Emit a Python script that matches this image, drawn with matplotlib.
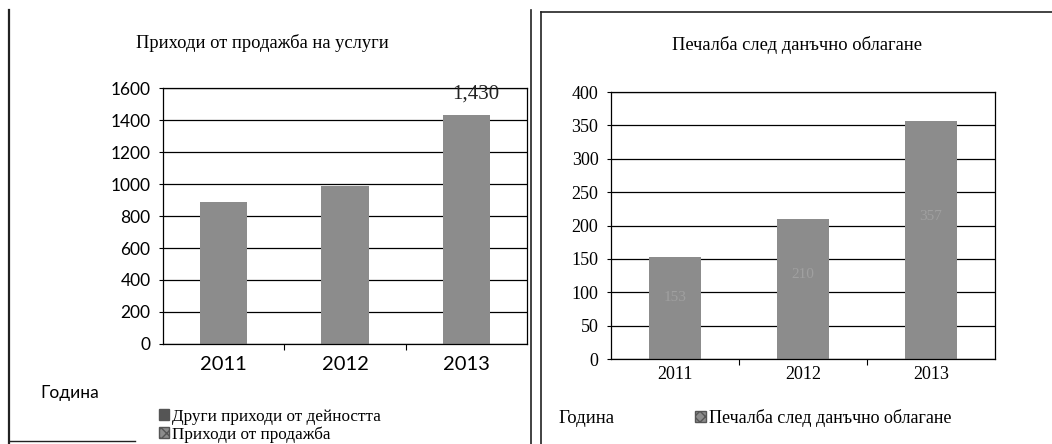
import matplotlib.pyplot as plt
from matplotlib.patches import Patch
from matplotlib.lines import Line2D

# Data
years = ['2011', '2012', '2013']
sales_income = [890, 990, 1430]          # Приходи от продажба
other_income = [0, 0, 0]                 # Други приходи от дейността
profit_after_tax = [153, 210, 357]       # Печалба след данъчно облагане

left_title = 'Приходи от продажба на услуги'
right_title = 'Печалба след данъчно облагане'
left_legend = ['Други приходи от дейността', 'Приходи от продажба']
right_legend = ['Печалба след данъчно облагане']
x_name = 'Година'

W, H = 1052, 444
bar_color = '#8c8c8c'
serif = 'Liberation Serif'
sans = 'Lato'

fig = plt.figure(figsize=(W / 100, H / 100), dpi=100)


def fx(px):
    return px / W


def fy(py):
    return 1 - py / H


def style_axes(ax, ymax, step):
    ax.set_xlim(-0.5, len(years) - 0.5)
    ax.set_ylim(0, ymax)
    ax.set_yticks(range(0, ymax + 1, step))
    ax.yaxis.grid(True, color='black', linewidth=0.9)
    ax.set_axisbelow(True)
    for s in ax.spines.values():
        s.set_color('black')
        s.set_linewidth(0.9)
    # category boundaries as tick marks, labels at centres
    ax.set_xticks([i + 0.5 for i in range(len(years) - 1)])
    ax.set_xticklabels([])
    ax.set_xticks(range(len(years)), minor=True)
    ax.set_xticklabels(years, minor=True)
    ax.tick_params(axis='x', which='major', length=4, direction='out')
    ax.tick_params(axis='x', which='minor', length=0, pad=9)
    ax.tick_params(axis='y', length=3, direction='out', pad=6)


# left panel
ax1 = fig.add_axes([fx(163), fy(344), fx(527 - 163), (344 - 88) / H])
ax1.bar(range(len(years)), other_income, width=0.39, color='#555555')
ax1.bar(range(len(years)), sales_income, width=0.39, color=bar_color)
style_axes(ax1, 1600, 200)
for lab in ax1.get_yticklabels():
    lab.set_fontfamily(sans)
    lab.set_fontsize(12.5)
for lab in ax1.get_xticklabels(minor=True):
    lab.set_fontfamily(sans)
    lab.set_fontsize(14.5)
ax1.text(2.08, sales_income[2] + 130, f'{sales_income[2]:,}', ha='center', va='center',
         fontsize=15, family=serif, color='#222222')

fig.text(fx(262), fy(43), left_title, ha='center', va='center', family=serif, fontsize=13.3)
fig.text(fx(40), fy(393), x_name, ha='left', va='center', family=sans, fontsize=12.5)

h1 = [Patch(facecolor='#555555', edgecolor='#555555'),
      Patch(facecolor=bar_color, edgecolor='#555555', hatch='xxx')]
fig.legend(h1, left_legend, loc='upper left', bbox_to_anchor=(fx(150), fy(400)),
           frameon=False, prop={'family': serif, 'size': 12.3}, handlelength=0.6,
           handleheight=0.6, handletextpad=0.2, labelspacing=0.1, borderpad=0)

# right panel
ax2 = fig.add_axes([fx(611), fy(359), fx(995 - 611), (359 - 92) / H])
ax2.bar(range(len(years)), profit_after_tax, width=0.40, color=bar_color)
style_axes(ax2, 400, 50)
for lab in ax2.get_yticklabels() + ax2.get_xticklabels(minor=True):
    lab.set_fontfamily(serif)
    lab.set_fontsize(13)
ax2.tick_params(axis='x', which='minor', pad=5)
# faint data labels inside the bars
for i, v in enumerate(profit_after_tax):
    ax2.text(i, v * 0.6, str(v), ha='center', va='center', family=serif,
             fontsize=11, color='#a0a0a0')

fig.text(fx(797), fy(45), right_title, ha='center', va='center', family=serif, fontsize=13.3)
fig.text(fx(558), fy(418), x_name, ha='left', va='center', family=serif, fontsize=13.5)
h2 = [Patch(facecolor=bar_color, edgecolor='#555555', hatch='xxx')]
fig.legend(h2, right_legend, loc='center left', bbox_to_anchor=(fx(686), fy(418)),
           frameon=False, prop={'family': serif, 'size': 13}, handlelength=0.6,
           handleheight=0.6, handletextpad=0.2, borderpad=0)

# page frame lines
for x0, y0, x1, y1, lw in [(9, 10, 9, 444, 1.6), (531, 10, 531, 444, 1.2),
                           (541, 12, 541, 444, 1.2), (541, 12, 1052, 12, 1.2),
                           (10, 441, 135, 441, 1.0)]:
    fig.add_artist(Line2D([fx(x0), fx(x1)], [fy(y0), fy(y1)], color='#222222',
                          linewidth=lw, transform=fig.transFigure))

fig.savefig('out.png', dpi=100)
